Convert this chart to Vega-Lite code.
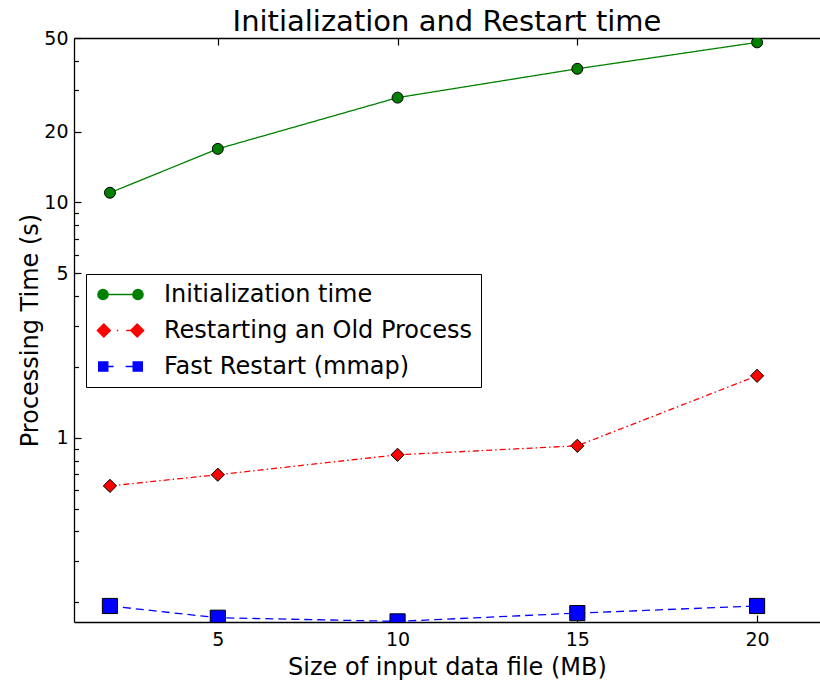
{
  "$schema": "https://vega.github.io/schema/vega-lite/v6.json",
  "width": 746,
  "height": 584,
  "autosize": {"type": "none"},
  "padding": {"left": 74, "top": 38, "right": 0, "bottom": 60},
  "background": "white",
  "title": {"text": "Initialization and Restart time", "fontSize": 29, "font": "DejaVu Sans", "fontWeight": "normal", "color": "black", "anchor": "middle", "offset": 8, "dy": 16},
  "config": {
    "view": {"stroke": null},
    "font": "DejaVu Sans",
    "axis": {"labelFont": "DejaVu Sans", "titleFont": "DejaVu Sans", "labelColor": "black", "titleColor": "black", "tickColor": "black", "domainColor": "black", "domainWidth": 1.3, "tickWidth": 1.2, "grid": false, "labelFontSize": 19, "titleFontSize": 24, "titleFontWeight": "normal"}
  },
  "data": {"values": [
    {"series": "Initialization time", "size": 2, "time": 11.0},
    {"series": "Initialization time", "size": 5, "time": 16.9},
    {"series": "Initialization time", "size": 10, "time": 27.9},
    {"series": "Initialization time", "size": 15, "time": 37.0},
    {"series": "Initialization time", "size": 20, "time": 47.9},
    {"series": "Restarting an Old Process", "size": 2, "time": 0.625},
    {"series": "Restarting an Old Process", "size": 5, "time": 0.697},
    {"series": "Restarting an Old Process", "size": 10, "time": 0.847},
    {"series": "Restarting an Old Process", "size": 15, "time": 0.925},
    {"series": "Restarting an Old Process", "size": 20, "time": 1.835},
    {"series": "Fast Restart (mmap)", "size": 2, "time": 0.193},
    {"series": "Fast Restart (mmap)", "size": 5, "time": 0.172},
    {"series": "Fast Restart (mmap)", "size": 10, "time": 0.166},
    {"series": "Fast Restart (mmap)", "size": 15, "time": 0.180},
    {"series": "Fast Restart (mmap)", "size": 20, "time": 0.193}
  ]},
  "layer": [
    {
      "mark": {"type": "line", "strokeWidth": 1.3, "clip": true},
      "encoding": {
        "x": {"field": "size", "type": "quantitative", "scale": {"domain": [1, 21.75], "nice": false, "zero": false},
          "axis": {"orient": "bottom", "values": [5, 10, 15, 20], "tickSize": -7, "labelPadding": 15, "title": "Size of input data file (MB)", "titlePadding": 6}},
        "y": {"field": "time", "type": "quantitative", "scale": {"type": "log", "domain": [0.165, 50], "nice": false},
          "axis": {"orient": "left", "values": [1, 5, 10, 20, 50], "format": "d", "tickSize": -7, "labelPadding": 13, "title": "Processing Time (s)", "titlePadding": 1}},
        "color": {"field": "series", "type": "nominal",
          "scale": {"domain": ["Initialization time", "Restarting an Old Process", "Fast Restart (mmap)"], "range": ["#008000", "#ff0000", "#0000ff"]},
          "legend": null},
        "strokeDash": {"field": "series", "type": "nominal",
          "scale": {"domain": ["Initialization time", "Restarting an Old Process", "Fast Restart (mmap)"], "range": [[1, 0], [6, 3, 1.5, 3], [8, 5]]},
          "legend": null}
      }
    },
    {
      "mark": {"type": "point", "filled": true, "opacity": 1, "stroke": "black", "strokeWidth": 1, "clip": true},
      "encoding": {
        "x": {"field": "size", "type": "quantitative",
          "axis": {"orient": "top", "values": [5, 10, 15, 20], "labels": false, "tickSize": -7, "title": null}},
        "y": {"field": "time", "type": "quantitative",
          "axis": {"orient": "left", "values": [0.2, 0.3, 0.4, 0.5, 0.6, 0.7, 0.8, 0.9, 2, 3, 4, 6, 7, 8, 9, 30, 40], "labels": false, "tickSize": -4.5, "title": null, "domain": false}},
        "color": {"field": "series", "type": "nominal",
          "scale": {"domain": ["Initialization time", "Restarting an Old Process", "Fast Restart (mmap)"], "range": ["#008000", "#ff0000", "#0000ff"]},
          "legend": null},
        "shape": {"field": "series", "type": "nominal",
          "scale": {"domain": ["Initialization time", "Restarting an Old Process", "Fast Restart (mmap)"], "range": ["circle", "diamond", "square"]},
          "legend": null},
        "size": {"field": "series", "type": "nominal",
          "scale": {"domain": ["Initialization time", "Restarting an Old Process", "Fast Restart (mmap)"], "range": [120, 230, 75]},
          "legend": null}
      }
    },
    {
      "transform": [{"filter": "datum.time < 0"}],
      "mark": {"type": "point", "filled": true, "opacity": 1, "size": 529, "strokeWidth": 1.3},
      "encoding": {
        "color": {"field": "series", "type": "nominal",
          "scale": {"domain": ["Initialization time", "Restarting an Old Process", "Fast Restart (mmap)"], "range": ["#008000", "#ff0000", "#0000ff"]},
          "legend": {
            "orient": "none", "legendX": 12, "legendY": 236, "title": null,
            "labelFont": "DejaVu Sans", "labelFontSize": 24, "labelColor": "black", "labelLimit": 0,
            "padding": 8, "strokeColor": "black", "fillColor": "white", "cornerRadius": 0,
            "symbolSize": 529, "symbolStrokeWidth": 1.3, "symbolOpacity": 1, "symbolOffset": 14, "labelOffset": 31, "rowPadding": 11
          }},
        "stroke": {"field": "series", "type": "nominal",
          "scale": {"domain": ["Initialization time", "Restarting an Old Process", "Fast Restart (mmap)"], "range": ["#008000", "#ff0000", "#0000ff"]}},
        "shape": {"field": "series", "type": "nominal",
          "scale": {"domain": ["Initialization time", "Restarting an Old Process", "Fast Restart (mmap)"],
            "range": [
              "M-1.97,0A0.45,0.45,0,1,0,-1.07,0A0.45,0.45,0,1,0,-1.97,0Z M-1.07,0L1.07,0 M1.07,0A0.45,0.45,0,1,0,1.97,0A0.45,0.45,0,1,0,1.07,0Z",
              "M-2.02,0L-1.45,-0.57L-0.88,0L-1.45,0.57Z M-0.32,0L-0.2,0 M0.5,0L0.88,0 M0.88,0L1.45,-0.57L2.02,0L1.45,0.57Z",
              "M-1.9,-0.4L-1.1,-0.4L-1.1,0.4L-1.9,0.4Z M-1.1,0L-0.6,0 M0.45,0L1.1,0 M1.1,-0.4L1.9,-0.4L1.9,0.4L1.1,0.4Z"
            ]}}
      }
    }
  ],
  "resolve": {"axis": {"x": "independent", "y": "independent"}, "scale": {"color": "independent", "shape": "independent", "stroke": "independent"}}
}
